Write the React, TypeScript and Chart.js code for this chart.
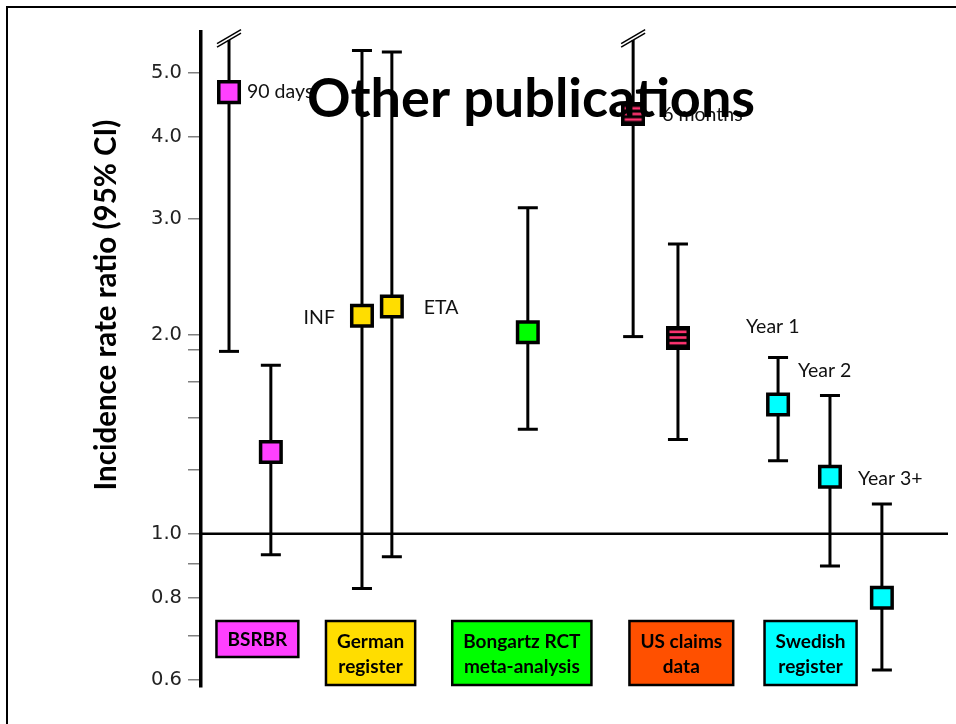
import React, { useEffect, useRef } from 'react';
import { Chart, registerables } from 'chart.js';

Chart.register(...registerables);

// ---- data ----
const studyLabels = [
  'BSRBR 90 days', 'BSRBR', 'German register INF', 'German register ETA', 'Bongartz RCT meta-analysis',
  'US claims 6 months', 'US claims', 'Swedish Year 1', 'Swedish Year 2', 'Swedish Year 3+',
];
const pointLabels = ['90 days', '', 'INF', 'ETA', '', '6 months', '', 'Year 1', 'Year 2', 'Year 3+'];
const xSlots = [0.75, 1.87, 4.31, 5.11, 8.75, 11.57, 12.77, 15.45, 16.84, 18.23];
const irrValues = [4.67, 1.33, 2.14, 2.21, 2.02, 4.32, 1.98, 1.57, 1.22, 0.8];
const ciLower = [1.89, 0.93, 0.826, 0.923, 1.44, 1.99, 1.39, 1.29, 0.894, 0.622];
const ciUpper = [5.6, 1.8, 5.4, 5.37, 3.12, 5.6, 2.75, 1.85, 1.62, 1.11];
const ciTruncated = [true, false, false, false, false, true, false, false, false, false];
const studyGroup = [0, 0, 1, 1, 2, 3, 3, 4, 4, 4];
const groupNames = [['BSRBR'], ['German', 'register'], ['Bongartz RCT', 'meta-analysis'], ['US claims', 'data'], ['Swedish', 'register']];
const groupCenters = [1.51, 4.54, 8.59, 12.86, 16.32];
const groupColors = ['#FF40FF', '#FFDD00', '#00FF00', '#FF5000', '#00FFFF'];
const majorTicks = [0.6, 0.8, 1.0, 2.0, 3.0, 4.0, 5.0];
const minorTicks = [0.7, 0.9, 1.25, 1.5, 1.7, 1.9];
const titleText = 'Other publications';
const yAxisTitle = 'Incidence rate ratio (95% CI)';

// ---- label placement (style): anchor 'mid' = marker, 'top' = upper CI end ----
const LABEL_OFFSETS: ({ dx: number; dy: number; align: CanvasTextAlign; anchor: 'mid' | 'top' } | null)[] = [
  { dx: 18, dy: 0, align: 'left', anchor: 'mid' },
  null,
  { dx: -27, dy: 2, align: 'right', anchor: 'mid' },
  { dx: 32, dy: 1, align: 'left', anchor: 'mid' },
  null,
  { dx: 29, dy: 0, align: 'left', anchor: 'mid' },
  null,
  { dx: -32, dy: -31, align: 'left', anchor: 'top' },
  { dx: -32, dy: -25, align: 'left', anchor: 'top' },
  { dx: -24, dy: -25, align: 'left', anchor: 'top' },
];

export default function App() {
  const ref = useRef<HTMLCanvasElement>(null);

  useEffect(() => {
    const canvas = ref.current;
    if (!canvas) return;

    // striped marker for US claims
    const stripe = document.createElement('canvas');
    stripe.width = 24;
    stripe.height = 24;
    const sc = stripe.getContext('2d')!;
    sc.fillStyle = '#000';
    sc.fillRect(0, 0, 24, 24);
    sc.fillStyle = '#FF3370';
    [4.5, 10.2, 15.8].forEach((yy) => sc.fillRect(3.5, yy, 17, 2.6));

    const datasets = groupColors.map((color, g) => {
      const idx = irrValues.map((_, i) => i).filter((i) => studyGroup[i] === g);
      return {
        type: 'scatter' as const,
        label: groupNames[g].join(' '),
        data: idx.map((i) => ({ x: xSlots[i], y: irrValues[i] })),
        pointStyle: g === 3 ? (stripe as any) : 'rect',
        pointRadius: 14.5,
        pointHoverRadius: 14.5,
        backgroundColor: color,
        borderColor: '#000',
        pointBorderWidth: 3.5,
        borderWidth: 3.5,
        showLine: false,
        clip: false,
      };
    });

    const overlay = {
      id: 'overlay',
      beforeDatasetsDraw(chart: any) {
        const { ctx, chartArea, scales } = chart;
        const x = scales.x;
        const y = scales.y;
        ctx.save();
        const y1 = y.getPixelForValue(1);
        ctx.strokeStyle = '#000';
        ctx.lineWidth = 2.5;
        ctx.beginPath();
        ctx.moveTo(chartArea.left, y1);
        ctx.lineTo(chartArea.right, y1);
        ctx.stroke();

        irrValues.forEach((_, i) => {
          const px = x.getPixelForValue(xSlots[i]);
          const lo = y.getPixelForValue(ciLower[i]);
          const hi = y.getPixelForValue(ciUpper[i]);
          ctx.lineWidth = 3;
          ctx.strokeStyle = '#000';
          ctx.beginPath();
          ctx.moveTo(px, lo);
          ctx.lineTo(px, hi);
          ctx.stroke();
          ctx.beginPath();
          ctx.moveTo(px - 10, lo);
          ctx.lineTo(px + 10, lo);
          if (!ciTruncated[i]) {
            ctx.moveTo(px - 10, hi);
            ctx.lineTo(px + 10, hi);
          }
          ctx.stroke();
          if (ciTruncated[i]) {
            ctx.lineWidth = 1.5;
            [0, -3.5].forEach((off) => {
              ctx.beginPath();
              ctx.moveTo(px - 12, hi + 7 + off);
              ctx.lineTo(px + 12, hi - 7 + off);
              ctx.stroke();
            });
          }
        });
        ctx.restore();
      },
      afterDatasetsDraw(chart: any) {
        const { ctx, chartArea, scales } = chart;
        const x = scales.x;
        const y = scales.y;
        ctx.save();
        ctx.font = '19.5px Lato';
        ctx.fillStyle = '#111';
        ctx.textBaseline = 'middle';
        pointLabels.forEach((txt, i) => {
          const o = LABEL_OFFSETS[i];
          if (!txt || !o) return;
          ctx.textAlign = o.align;
          const base = o.anchor === 'top' ? ciUpper[i] : irrValues[i];
          ctx.fillText(txt, x.getPixelForValue(xSlots[i]) + o.dx, y.getPixelForValue(base) + o.dy);
        });

        ctx.font = 'bold 19px Lato';
        groupNames.forEach((lines, g) => {
          const cx = x.getPixelForValue(groupCenters[g]);
          const w = Math.max(...lines.map((l) => ctx.measureText(l).width)) + 22;
          const h = 8 + 28 * lines.length;
          const top = chartArea.bottom - 66;
          ctx.fillStyle = groupColors[g];
          ctx.fillRect(cx - w / 2, top, w, h);
          ctx.strokeStyle = '#000';
          ctx.lineWidth = 2.5;
          ctx.strokeRect(cx - w / 2, top, w, h);
          ctx.fillStyle = '#000';
          ctx.textAlign = 'center';
          ctx.textBaseline = 'middle';
          lines.forEach((l, k) => ctx.fillText(l, cx, top + (h - 25 * (lines.length - 1)) / 2 + 25 * k + 1));
        });
        ctx.restore();
      },
      afterDraw(chart: any) {
        const { ctx } = chart;
        ctx.save();
        ctx.fillStyle = '#000';
        ctx.font = 'bold 54px Lato';
        ctx.textAlign = 'center';
        ctx.textBaseline = 'alphabetic';
        ctx.fillText(titleText, 531, 117);

        ctx.translate(106, 305);
        ctx.rotate(-Math.PI / 2);
        ctx.font = 'bold 29.5px Lato';
        ctx.textBaseline = 'middle';
        ctx.fillText(yAxisTitle, 0, 0);
        ctx.restore();
      },
    };

    const chart = new Chart(canvas, {
      type: 'scatter',
      data: { labels: studyLabels, datasets: datasets as any },
      options: {
        animation: false,
        responsive: false,
        maintainAspectRatio: false,
        events: [],
        layout: { autoPadding: false, padding: { left: 0, top: 32, right: 8, bottom: 37 } },
        plugins: {
          legend: { display: false },
          tooltip: { enabled: false },
          title: { display: false },
        },
        scales: {
          x: { type: 'linear', min: 0, max: 20, display: false },
          y: {
            type: 'logarithmic',
            min: 0.586,
            max: 5.76,
            afterFit: (s: any) => {
              s.width = 201;
            },
            afterBuildTicks: (s: any) => {
              s.ticks = [...majorTicks, ...minorTicks].sort((a, b) => a - b).map((v) => ({ value: v }));
            },
            ticks: {
              autoSkip: false,
              padding: 6,
              color: '#222',
              font: { family: 'DejaVu Sans', size: 19.5 },
              callback: (v: any) => (majorTicks.includes(Number(v)) ? Number(v).toFixed(1) : ''),
            },
            grid: { drawOnChartArea: false, drawTicks: true, tickLength: 13, color: '#7f7f7f', lineWidth: 1.5 },
            border: { display: true, color: '#000', width: 3.5 },
          },
        } as any,
      },
      plugins: [overlay],
    });

    return () => chart.destroy();
  }, []);

  return (
    <div style={{ position: 'fixed', left: 0, top: 0, width: 956, height: 724, background: '#fff', overflow: 'hidden' }}>
      <div
        style={{
          position: 'absolute',
          left: 6,
          top: 6,
          right: 0,
          bottom: 0,
          borderTop: '2px solid #000',
          borderLeft: '2px solid #000',
        }}
      />
      <canvas ref={ref} width={956} height={724} style={{ position: 'absolute', left: 0, top: 0, display: 'block' }} />
    </div>
  );
}
